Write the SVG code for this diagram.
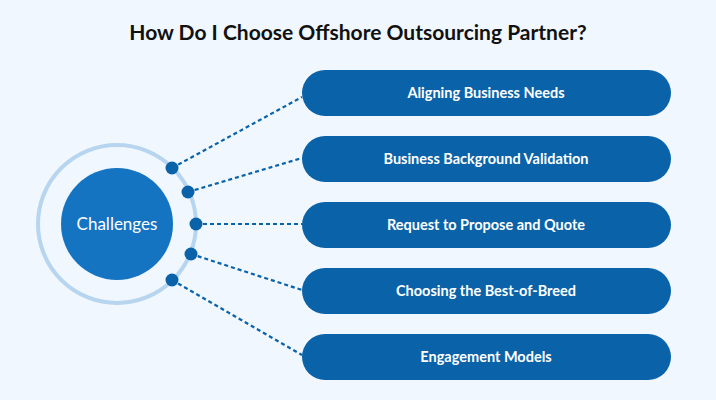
<svg xmlns="http://www.w3.org/2000/svg" width="716" height="400" viewBox="0 0 716 400">
<style>
.pill{fill:#0a62a8}
.pt{font-family:"Lato","Liberation Sans",sans-serif;font-size:14.5px;font-weight:bold;fill:#fff;text-anchor:middle}
.ln{stroke:#0a62a8;stroke-width:2.2;stroke-dasharray:4 3;fill:none}
.dot{fill:#0a62a8}
</style>
<rect width="716" height="400" fill="#f0f7fe"/>
<text x="358" y="40" font-family="Lato,'Liberation Sans',sans-serif" font-size="21" font-weight="bold" fill="#111" text-anchor="middle">How Do I Choose Offshore Outsourcing Partner?</text>
<g id="center">
<circle cx="117" cy="224" r="79" fill="none" stroke="#b7d5ef" stroke-width="4"/>
<circle cx="117" cy="224" r="56" fill="#1474c2"/>
<text x="117" y="230" font-family="Lato,'Liberation Sans',sans-serif" font-size="17" fill="#fff" text-anchor="middle">Challenges</text>
</g>
<g id="connectors">
<path class="ln" d="M172 168L302 97M188 192L302 158M196 224L302 224M191 254L302 290M172 280L302 355"/>
<circle class="dot" cx="172" cy="168" r="6.5"/>
<circle class="dot" cx="188" cy="192" r="6.5"/>
<circle class="dot" cx="196" cy="224" r="6.5"/>
<circle class="dot" cx="191" cy="254" r="6.5"/>
<circle class="dot" cx="172" cy="280" r="6.5"/>
</g>
<g id="n1"><rect class="pill" x="302" y="70" width="369" height="46" rx="23"/><text class="pt" x="486" y="98">Aligning Business Needs</text></g>
<g id="n2"><rect class="pill" x="302" y="136" width="369" height="46" rx="23"/><text class="pt" x="486" y="164">Business Background Validation</text></g>
<g id="n3"><rect class="pill" x="302" y="202" width="369" height="46" rx="23"/><text class="pt" x="486" y="230">Request to Propose and Quote</text></g>
<g id="n4"><rect class="pill" x="302" y="268" width="369" height="46" rx="23"/><text class="pt" x="486" y="296">Choosing the Best-of-Breed</text></g>
<g id="n5"><rect class="pill" x="302" y="334" width="369" height="46" rx="23"/><text class="pt" x="486" y="362">Engagement Models</text></g>
</svg>
